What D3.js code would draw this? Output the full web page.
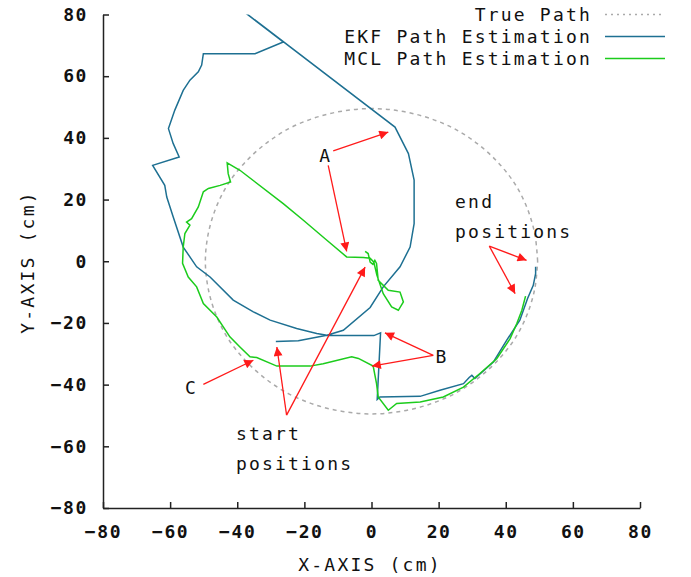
<!DOCTYPE html>
<html>
<head>
<meta charset="utf-8">
<script src="https://cdn.jsdelivr.net/npm/d3@7/dist/d3.min.js"></script>
<style>
  body { margin: 0; background: #fff; }
  text { font-family: "DejaVu Sans Mono", monospace; font-size: 18px; fill: #111; letter-spacing: 2.2px; }
  .tick text { font-weight: bold; letter-spacing: 1.6px; }
</style>
</head>
<body>
<div class="container"></div>
<script>
// true path (circle, every 10 deg)
var truePath = [
  [49.5,0],[48.7,8.6],[46.5,16.9],[42.9,24.8],[37.9,31.8],[31.8,37.9],[24.8,42.9],[16.9,46.5],[8.6,48.7],
  [0,49.5],[-8.6,48.7],[-16.9,46.5],[-24.8,42.9],[-31.8,37.9],[-37.9,31.8],[-42.9,24.8],[-46.5,16.9],[-48.7,8.6],
  [-49.5,0],[-48.7,-8.6],[-46.5,-16.9],[-42.9,-24.8],[-37.9,-31.8],[-31.8,-37.9],[-24.8,-42.9],[-16.9,-46.5],[-8.6,-48.7],
  [0,-49.5],[8.6,-48.7],[16.9,-46.5],[24.8,-42.9],[31.8,-37.9],[37.9,-31.8],[42.9,-24.8],[46.5,-16.9],[48.7,-8.6],[49.5,0]
];

var ekfPath = [
  [-28.5,-26.0],[-21.8,-25.8],[-13.3,-24.0],[-8.4,-22.4],[-0.4,-15.0],[3.5,-8.3],[8.5,-1.8],[11.5,4.6],
  [12.7,12.2],[12.7,19.8],[12.7,26.3],[11.0,34.9],[7.0,43.5],[-46.5,88.0],[-26.3,71.1],[-34.7,67.3],
  [-50.1,67.3],[-50.6,63.6],[-51.6,61.4],[-54.1,58.7],[-56.1,55.4],[-58.6,49.0],[-60.5,43.0],[-59.1,38.2],
  [-57.3,33.8],[-65.2,31.1],[-61.6,24.6],[-61.0,20.8],[-59.1,14.4],[-56.1,4.6],[-52.1,-1.8],[-48.1,-5.1],
  [-41.2,-12.6],[-35.2,-16.4],[-30.2,-19.1],[-22.3,-21.8],[-16.3,-23.4],[-13.3,-24.0],[0.7,-24.1],[2.7,-23.2],
  [1.7,-44.8],[2.5,-44.0],[14.5,-43.8],[20.4,-41.8],[27.4,-39.7],[29.1,-37.7],[29.9,-37.0],[30.8,-38.0],
  [36.3,-32.7],[40.3,-25.6],[44.2,-19.1],[46.5,-12.1],[48.2,-7.8],[48.9,-4.0],[48.9,-1.8]
];

var mclPath = [
  [-1.9,3.2],[-1.0,2.5],[-0.4,-0.3],[0.4,-1.0],[1.0,0.3],[1.5,-0.7],[2.0,-6.2],[5.0,-9.4],[8.5,-10.0],
  [9.5,-13.2],[8.0,-15.9],[6.0,-14.8],[3.5,-10.5],[1.6,-4.5],[0.7,-0.3],[-0.4,1.0],[-2.4,1.2],[-7.4,1.4],
  [-13.3,6.8],[-20.3,13.3],[-26.3,18.7],[-39.2,29.5],[-43.0,31.9],[-42.7,28.4],[-42.0,25.7],[-45.1,24.6],
  [-48.6,23.6],[-50.1,22.5],[-51.6,17.6],[-53.6,13.8],[-55.1,12.7],[-54.1,11.7],[-55.6,9.0],[-56.1,4.6],
  [-56.3,-0.7],[-54.6,-5.1],[-52.1,-8.3],[-50.1,-13.7],[-46.1,-18.1],[-42.2,-24.5],[-39.2,-27.8],[-36.2,-31.0],
  [-34.2,-31.2],[-28.2,-34.0],[-18.3,-34.0],[-14.4,-33.2],[-5.9,-31.0],[-3.9,-31.5],[0.5,-34.0],[1.5,-39.7],
  [2.0,-44.0],[5.0,-48.3],[7.5,-46.1],[14.5,-45.6],[21.4,-44.0],[27.4,-40.8],[32.3,-36.4],[37.3,-31.6],
  [41.3,-25.1],[43.3,-20.2],[44.8,-15.9],[45.9,-11.3]
];

var ticks = [-80, -60, -40, -20, 0, 20, 40, 60, 80];
var seriesNames = ["True Path", "EKF Path Estimation", "MCL Path Estimation"];
var seriesColors = ["#aaaaaa", "#1e7092", "#1ccc1c"];

// annotations: [x1, y1, x2, y2] in data units
var arrowsA = [[-11.4,35.8,5.0,41.9],[-12.9,31.1,-7.4,3.2]];
var arrowsB = [[18.4,-30.5,4.0,-23.2],[18.4,-30.5,0.1,-34.0]];
var arrowsC = [[-50.1,-39.9,-35.2,-32.1]];
var arrowsStart = [[-25.3,-49.9,-28.2,-27.8],[-25.3,-49.9,-1.9,-1.9]];
var arrowsEnd = [[35.1,4.9,46.2,0.3],[35.1,4.9,42.8,-10.5]];
var labels = [
  {t: "A", x: -13.6, y: 34.4, a: "middle"},
  {t: "B", x: 21.0, y: -30.8, a: "middle"},
  {t: "C", x: -53.6, y: -40.8, a: "middle"},
  {t: "start", x: -40.4, y: -55.8, a: "start"},
  {t: "positions", x: -40.4, y: -65.5, a: "start"},
  {t: "end", x: 24.9, y: 19.5, a: "start"},
  {t: "positions", x: 24.9, y: 9.7, a: "start"}
];

var W = 691, H = 577;
var svg = d3.select(".container").append('svg')
  .attr('width', W)
  .attr('height', H);

var x = d3.scaleLinear().domain([-80, 80]).range([103, 640]);
var y = d3.scaleLinear().domain([-80, 80]).range([508, 14.5]);

svg.append('defs').append('clipPath').attr('id', 'plotclip')
  .append('rect')
  .attr('x', 103).attr('y', 14.5)
  .attr('width', 537).attr('height', 493.5);

svg.select('defs').append('marker')
  .attr('id', 'head')
  .attr('viewBox', '0 0 10 10')
  .attr('refX', 10).attr('refY', 5)
  .attr('markerWidth', 13).attr('markerHeight', 9)
  .attr('markerUnits', 'userSpaceOnUse')
  .attr('orient', 'auto')
  .append('path').attr('d', 'M0,0L10,5L0,10z').attr('fill', '#ff1a1a');

// axes
var yAxis = d3.axisLeft(y).tickValues(ticks).tickSizeInner(-6).tickSizeOuter(0).tickPadding(15);
var xAxis = d3.axisBottom(x).tickValues(ticks).tickSizeInner(-6).tickSizeOuter(0).tickPadding(17);

var gy = svg.append('g').attr('transform', 'translate(103,0)').call(yAxis);
var gx = svg.append('g').attr('transform', 'translate(0,508)').call(xAxis);
[gy, gx].forEach(function(g){
  g.selectAll('.domain').attr('stroke', '#222').attr('stroke-width', 1.5);
  g.selectAll('.tick line').attr('stroke', '#222').attr('stroke-width', 1.5);
  g.selectAll('.tick text').attr('font-family', null).attr('font-size', null).attr('fill', '#111');
  g.attr('font-family', null).attr('font-size', null);
});

svg.append('text')
  .attr('x', 370).attr('y', 571)
  .attr('text-anchor', 'middle')
  .text('X-AXIS (cm)');

svg.append('text')
  .attr('transform', 'translate(34,262) rotate(-90)')
  .attr('text-anchor', 'middle')
  .text('Y-AXIS (cm)');

// paths
var line = d3.line().x(function(d){ return x(d[0]); }).y(function(d){ return y(d[1]); });
var plot = svg.append('g').attr('clip-path', 'url(#plotclip)');

plot.append('path')
  .attr('d', line.curve(d3.curveCatmullRom)(truePath))
  .attr('fill', 'none')
  .attr('stroke', seriesColors[0])
  .attr('stroke-width', 1.5)
  .attr('stroke-dasharray', '4,4');

line.curve(d3.curveLinear);
plot.append('path')
  .attr('d', line(ekfPath))
  .attr('fill', 'none')
  .attr('stroke', seriesColors[1])
  .attr('stroke-width', 1.5);

plot.append('path')
  .attr('d', line(mclPath))
  .attr('fill', 'none')
  .attr('stroke', seriesColors[2])
  .attr('stroke-width', 1.5);

// annotations
var allArrows = arrowsA.concat(arrowsB, arrowsC, arrowsStart, arrowsEnd);
svg.selectAll('line.arrow').data(allArrows).enter()
  .append('line').attr('class', 'arrow')
  .attr('x1', function(d){ return x(d[0]); })
  .attr('y1', function(d){ return y(d[1]); })
  .attr('x2', function(d){ return x(d[2]); })
  .attr('y2', function(d){ return y(d[3]); })
  .attr('stroke', '#ff1a1a')
  .attr('stroke-width', 1.3)
  .attr('marker-end', 'url(#head)');

svg.selectAll('text.lab').data(labels).enter()
  .append('text').attr('class', 'lab')
  .attr('x', function(d){ return x(d.x); })
  .attr('y', function(d){ return y(d.y); })
  .attr('dy', '0.36em')
  .attr('text-anchor', function(d){ return d.a; })
  .text(function(d){ return d.t; });

// legend
var legend = svg.selectAll('g.leg').data(seriesNames).enter()
  .append('g').attr('class', 'leg')
  .attr('transform', function(d, i){ return 'translate(0,' + (14.5 + i * 22) + ')'; });

legend.append('text')
  .attr('x', 592)
  .attr('dy', '0.36em')
  .attr('text-anchor', 'end')
  .text(function(d){ return d; });

legend.append('line')
  .attr('x1', 605).attr('x2', 665)
  .attr('stroke', function(d, i){ return seriesColors[i]; })
  .attr('stroke-width', 1.5)
  .attr('stroke-dasharray', function(d, i){ return i == 0 ? '2,4' : null; });
</script>
</body>
</html>
